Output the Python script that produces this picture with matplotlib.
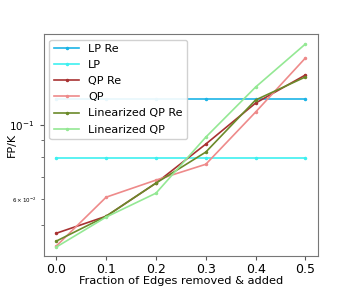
import numpy as np
import matplotlib
matplotlib.use('Agg')
import matplotlib.pyplot as plt

# fracción de aristas quitadas y añadidas
fraccion = [0.0, 0.1, 0.2, 0.3, 0.4, 0.5]

lp_re = [0.1197, 0.1197, 0.1197, 0.1197, 0.1197, 0.1197]
lp = [0.0796, 0.0796, 0.0796, 0.0796, 0.0796, 0.0796]
qp_re = [0.0474, 0.0533, 0.0670, 0.0877, 0.1164, 0.1413]
qp = [0.0434, 0.0608, 0.0684, 0.0763, 0.1094, 0.1589]
lin_qp_re = [0.0449, 0.0533, 0.0670, 0.0830, 0.1189, 0.1394]
lin_qp = [0.0431, 0.0530, 0.0625, 0.0920, 0.1300, 0.1750]

series = [
    ('LP Re', lp_re, '#1cb4e6'),
    ('LP', lp, '#3ef0f0'),
    ('QP Re', qp_re, '#a83232'),
    ('QP', qp, '#ee8a8a'),
    ('Linearized QP Re', lin_qp_re, '#6b8a2a'),
    ('Linearized QP', lin_qp, '#94e894'),
]

fig = plt.figure(figsize=(3.54, 2.88), dpi=100)
ax = fig.add_axes([0.124, 0.111, 0.774, 0.771])

for nombre, valores, color in series:
    ax.plot(fraccion, valores, marker='.', markersize=3, linewidth=1.2,
            color=color, label=nombre)

ax.set_yscale('log')
ax.set_ylim(0.0405, 0.1875)
ax.set_xlim(-0.025, 0.525)
ax.set_xticks([0.0, 0.1, 0.2, 0.3, 0.4, 0.5])
ax.tick_params(axis='x', which='major', labelsize=9, length=3, pad=2, color='#555555')
ax.tick_params(axis='y', which='major', labelsize=7.5, length=3, color='#555555')
ax.tick_params(axis='y', which='minor', labelsize=4, length=2, color='#555555')
for s in ax.spines.values():
    s.set_color('#777777')

ax.set_xlabel('Fraction of Edges removed & added', fontsize=8.2, labelpad=0)
ax.set_ylabel('FP/K', fontsize=8)
ax.yaxis.set_label_coords(-0.1, 0.5)
ax.legend(loc='upper left', fontsize=8, handlelength=2.3, labelspacing=0.55,
          borderaxespad=0.5, framealpha=0.9)

fig.savefig('out.png', dpi=100)
